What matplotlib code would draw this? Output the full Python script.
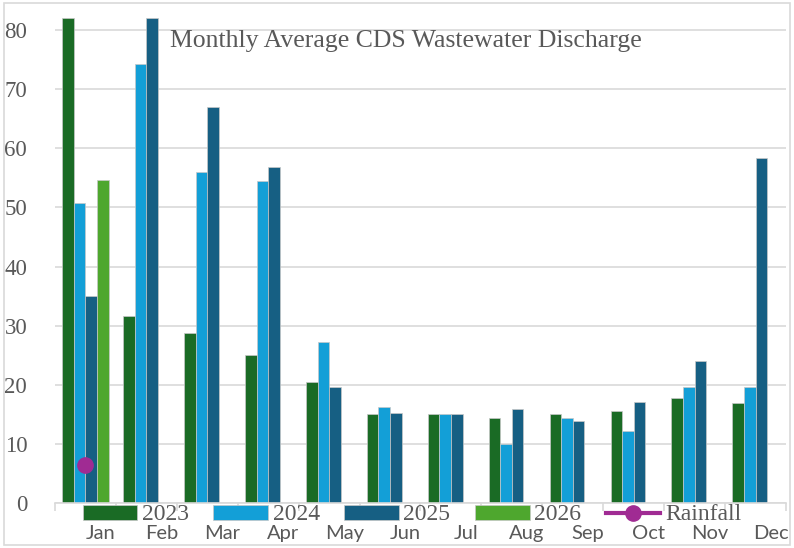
import numpy as np
import matplotlib
matplotlib.use("Agg")
import matplotlib.pyplot as plt
from matplotlib.patches import Rectangle

# data
months = ["Jan", "Feb", "Mar", "Apr", "May", "Jun",
          "Jul", "Aug", "Sep", "Oct", "Nov", "Dec"]
y2023 = [82.0, 31.6, 28.7, 25.0, 20.5, 15.1, 15.1, 14.4, 15.0, 15.5, 17.7, 16.9]
y2024 = [50.7, 74.2, 56.0, 54.5, 27.3, 16.3, 15.1, 10.0, 14.4, 12.1, 19.7, 19.6]
y2025 = [35.0, 82.0, 67.0, 56.8, 19.7, 15.3, 15.1, 15.9, 13.8, 17.0, 24.0, 58.3]
y2026 = [54.7]
rainfall = [6.5]

series = [("2023", y2023, "#1a6b25"),
          ("2024", y2024, "#139fd7"),
          ("2025", y2025, "#165f83"),
          ("2026", y2026, "#4ea72e")]
rain_color = "#a02b93"
grey_txt = "#595959"
grid_col = "#d9d9d9"

fig = plt.figure(figsize=(7.94, 5.48), dpi=100)
ax = fig.add_axes([55 / 794, 1 - 503 / 548, 731 / 794, 499 / 548])

bw = 0.19
handles = []
for k, (name, vals, col) in enumerate(series):
    x = np.arange(len(vals)) + (k - 1.5) * bw
    b = ax.bar(x, vals, width=bw, color=col, edgecolor="#c8c8c8", linewidth=0.5,
               label=name, zorder=2)
    handles.append(b)

line, = ax.plot(np.arange(len(rainfall)), rainfall, color=rain_color, marker="o",
                markersize=11, linewidth=3, label="Rainfall", zorder=3)
handles.append(line)

ax.set_xlim(-0.5, len(months) - 0.5)
ax.set_ylim(0, 84.4)
ax.set_yticks(range(0, 81, 10))
ax.yaxis.grid(True, color=grid_col, linewidth=1.2, zorder=0)
ax.set_axisbelow(True)
for s in ["top", "right", "left"]:
    ax.spines[s].set_visible(False)
ax.spines["bottom"].set_color(grid_col)
ax.spines["bottom"].set_linewidth(1.2)
ax.tick_params(axis="y", length=0, pad=20, labelsize=16.5, labelcolor=grey_txt)
for t in ax.get_yticklabels():
    t.set_fontfamily("Liberation Serif")

# category boundaries get the tick marks, labels sit a bit right of centre
ax.set_xticks(np.arange(len(months) + 1) - 0.5)
ax.set_xticklabels([])
ax.tick_params(axis="x", which="major", length=6, color=grid_col, width=1.2)
ax.set_xticks(np.arange(len(months)) + 0.25, minor=True)
ax.set_xticklabels(months, minor=True, fontfamily="Lato", fontsize=14.5,
                   color=grey_txt)
ax.tick_params(axis="x", which="minor", length=0, pad=16)

fig.text(170 / 794, 1 - 41 / 548, "Monthly Average CDS Wastewater Discharge",
         fontfamily="Liberation Serif", fontsize=18.5, color=grey_txt,
         ha="left", va="center")

leg = fig.legend(handles=handles, loc="center",
                 bbox_to_anchor=(412 / 794, 1 - 515 / 548), ncol=5,
                 frameon=False, prop={"family": "Liberation Serif", "size": 17},
                 handlelength=2.3, handleheight=0.6, handletextpad=0.2,
                 columnspacing=1.05, borderpad=0)
for t in leg.get_texts():
    t.set_color(grey_txt)

fig.patches.append(Rectangle((4 / 794, 3 / 548), 786 / 794, 542 / 548,
                             transform=fig.transFigure, fill=False,
                             edgecolor=grid_col, linewidth=1.2))

fig.savefig("out.png", dpi=100)
